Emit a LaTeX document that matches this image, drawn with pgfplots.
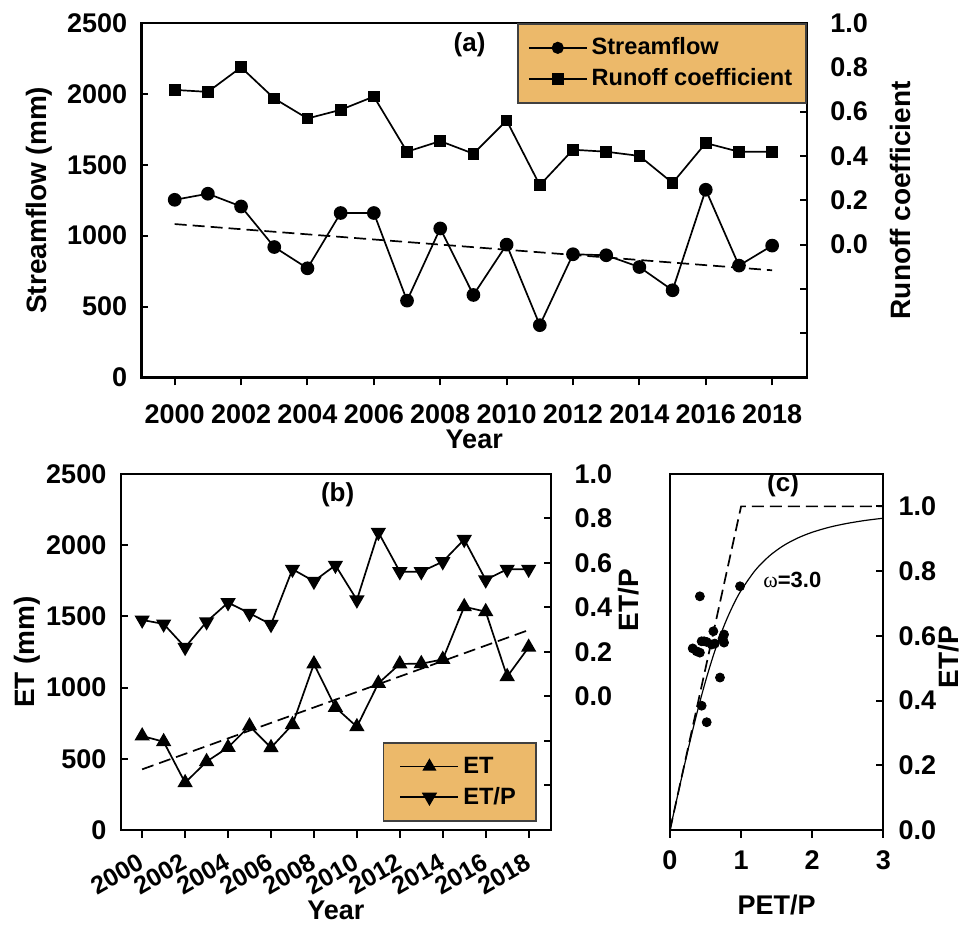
\documentclass[border=0pt]{standalone}
\usepackage{pgfplots}
\pgfplotsset{compat=1.18}
\usepackage{fontspec}
\setmainfont{Liberation Sans}
\newfontfamily\serifgr{Liberation Serif}
\definecolor{legfill}{RGB}{236,185,106}

\pgfplotsset{
  panel/.style={
    scale only axis,
    font=\fontsize{13.5}{16}\selectfont\bfseries,
    tick label style={font=\fontsize{13.5}{16}\selectfont\bfseries},
    xlabel style={font=\fontsize{13.5}{16}\selectfont\bfseries},
    ylabel style={font=\fontsize{14}{16}\selectfont\bfseries},
    /pgf/number format/assume math mode=true,
    /pgf/number format/1000 sep={},
    axis line style={line width=1.1pt},
    major tick length=3.5pt,
    tick style={line width=1pt, black},
    tick align=inside,
  },
  leg/.style={
    legend style={fill=legfill, draw=black!75, line width=0.8pt,
      font=\fontsize{11.8}{13.5}\selectfont\bfseries,
      inner xsep=5pt, inner ysep=5pt, row sep=1.5pt,
      /tikz/every even column/.append style={column sep=3pt}},
    legend cell align=left,
    legend image code/.code={\draw[mark repeat=2,mark phase=2,##1] plot coordinates {(0pt,0pt) (14.5pt,0pt) (29pt,0pt)};},
  },
  dline/.style={black, line width=0.85pt},
}

\begin{document}
\begin{tikzpicture}
\useasboundingbox (0,0) rectangle (482.5pt,462.5pt);

% ---------------- (a) ----------------
\begin{axis}[panel,
  at={(70.75pt,273.75pt)}, anchor=south west,
  width=332.75pt, height=177.25pt,
  xmin=1999, xmax=2019.05, ymin=0, ymax=2500,
  xtick={2000,2002,...,2018}, ytick={0,500,...,2500},
  xtick pos=bottom, ytick pos=left,
  major x tick style={yshift=-4pt},
  xticklabel style={anchor=base, yshift=-23pt},
  yticklabel style={anchor=east, inner sep=0pt, xshift=-7pt},
  xlabel={Year}, ylabel={Streamflow (mm)},
  xlabel style={at={(axis description cs:0.5,0)}, anchor=base, yshift=-35.5pt},
  ylabel style={at={(axis description cs:-0.154,0.5)}, anchor=center, rotate=0},
]
\addplot[dline, mark=*, mark size=3pt] coordinates {
(2000,1253) (2001,1296) (2002,1206) (2003,920) (2004,770) (2005,1160)
(2006,1160) (2007,542) (2008,1051) (2009,582) (2010,937) (2011,369)
(2012,869) (2013,862) (2014,779) (2015,615) (2016,1324) (2017,789) (2018,930)};
\addplot[black, line width=0.85pt, dash pattern=on 6pt off 3pt] coordinates {(2000,1082) (2018,756)};
\node[font=\fontsize{13}{15}\selectfont\bfseries] at (axis description cs:0.493,0.938) {(a)};
\end{axis}

\begin{axis}[panel, leg,
  at={(70.75pt,273.75pt)}, anchor=south west,
  width=332.75pt, height=177.25pt,
  xmin=1999, xmax=2019.05, ymin=-0.6, ymax=1.0,
  axis x line=none, axis y line*=right, tick align=inside,
  ytick={-0.4,-0.2,0,0.2,0.4,0.6,0.8,1.0},
  yticklabels={{},{},0.0,0.2,0.4,0.6,0.8,1.0},
  yticklabel style={anchor=west, inner sep=0pt, xshift=11.5pt},
  ylabel={Runoff coefficient},
  ylabel style={at={(axis description cs:1.141,0.5)}, anchor=center, rotate=0},
  legend style={at={(1,1)}, anchor=north east},
]
\addlegendimage{dline, mark=*, mark size=2.6pt}
\addlegendentry{Streamflow}
\addplot[dline, mark=square*, mark size=2.5pt] coordinates {
(2000,0.698) (2001,0.689) (2002,0.800) (2003,0.659) (2004,0.569) (2005,0.608)
(2006,0.668) (2007,0.419) (2008,0.467) (2009,0.410) (2010,0.560) (2011,0.268)
(2012,0.428) (2013,0.419) (2014,0.400) (2015,0.278) (2016,0.458) (2017,0.419) (2018,0.419)};
\addlegendentry{Runoff coefficient}
\end{axis}

% ---------------- (b) ----------------
\begin{axis}[panel,
  at={(60.35pt,47.5pt)}, anchor=south west,
  width=215.25pt, height=178pt,
  xmin=1999, xmax=2019.05, ymin=0, ymax=2500,
  xtick={2000,2002,...,2018}, ytick={0,500,...,2500},
  xtick pos=bottom, ytick pos=left,
  major x tick style={yshift=-4pt},
  xticklabel style={font=\fontsize{12.5}{15}\selectfont\bfseries, inner sep=0pt, xshift=-2.4pt, yshift=-11pt, rotate=30, anchor=north east},
  yticklabel style={anchor=east, inner sep=0pt, xshift=-7pt},
  xlabel={Year}, ylabel={ET (mm)},
  xlabel style={at={(axis description cs:0.5,0)}, anchor=base, yshift=-45pt},
  ylabel style={at={(axis description cs:-0.218,0.5)}, anchor=center, rotate=0},
]
\addplot[dline, mark=triangle*, mark size=3.6pt] coordinates {
(2000,660) (2001,620) (2002,332) (2003,480) (2004,580) (2005,730)
(2006,578) (2007,740) (2008,1166) (2009,861) (2010,725) (2011,1030)
(2012,1166) (2013,1168) (2014,1198) (2015,1568) (2016,1533) (2017,1077) (2018,1283)};
\addplot[black, line width=0.85pt, dash pattern=on 6pt off 3pt] coordinates {(2000,426) (2018,1404)};
\node[font=\fontsize{13}{15}\selectfont\bfseries] at (axis description cs:0.504,0.941) {(b)};
\end{axis}

\begin{axis}[panel, leg,
  at={(60.35pt,47.5pt)}, anchor=south west,
  width=215.25pt, height=178pt,
  xmin=1999, xmax=2019.05, ymin=-0.6, ymax=1.0,
  axis x line=none, axis y line*=right, tick align=inside,
  ytick={-0.4,-0.2,0,0.2,0.4,0.6,0.8,1.0},
  yticklabels={{},{},0.0,0.2,0.4,0.6,0.8,1.0},
  yticklabel style={anchor=west, inner sep=0pt, xshift=11.5pt},
  ylabel={ET/P},
  ylabel style={at={(axis description cs:1.181,0.646)}, anchor=center, rotate=0},
  legend style={at={(0.966,0.0225)}, anchor=south east, inner xsep=8pt},
]
\addlegendimage{dline, mark=triangle*, mark size=3.2pt}
\addlegendentry{ET}
\addplot[dline, mark=triangle*, mark options={rotate=180}, mark size=3.6pt] coordinates {
(2000,0.344) (2001,0.326) (2002,0.221) (2003,0.336) (2004,0.422) (2005,0.374)
(2006,0.324) (2007,0.572) (2008,0.518) (2009,0.590) (2010,0.434) (2011,0.738)
(2012,0.561) (2013,0.561) (2014,0.606) (2015,0.706) (2016,0.524) (2017,0.572) (2018,0.572)};
\addlegendentry{ET/P}
\end{axis}

% ---------------- (c) ----------------
\begin{axis}[panel,
  at={(335pt,47.5pt)}, anchor=south west,
  width=106.65pt, height=178pt,
  xmin=0, xmax=3, ymin=0, ymax=1.10,
  xtick={0,1,2,3}, ytick={0,0.2,0.4,0.6,0.8,1.0},
  yticklabels={0.0,0.2,0.4,0.6,0.8,1.0},
  xtick pos=bottom, ytick pos=right, yticklabel pos=right,
  major x tick style={yshift=-4pt},
  xticklabel style={anchor=base, yshift=-20pt},
  yticklabel style={anchor=west, inner sep=0pt, xshift=7.5pt},
  xlabel={PET/P}, ylabel={ET/P},
  xlabel style={at={(axis description cs:0.5,0)}, anchor=base, yshift=-42.5pt},
  ylabel style={at={(axis description cs:1.306,0.486)}, anchor=center, rotate=0},
]
\addplot[black, line width=0.85pt, dash pattern=on 6pt off 3pt] coordinates {(0,0) (1,1) (3,1)};
\addplot[black, line width=0.6pt, smooth] coordinates {
(0,0) (0.05,0.0500) (0.1,0.0997) (0.2,0.1973) (0.3,0.2911) (0.4,0.3791) (0.5,0.4600)
(0.6,0.5326) (0.7,0.5967) (0.8,0.6522) (0.9,0.6998) (1.0,0.7401) (1.2,0.8027)
(1.4,0.8472) (1.6,0.8792) (1.8,0.9025) (2.0,0.9199) (2.25,0.9360) (2.5,0.9477)
(2.75,0.9566) (3.0,0.9634)};
\addplot[only marks, mark=*, mark size=2.25pt, black] coordinates {
(0.42,0.722) (0.985,0.753) (0.61,0.614) (0.76,0.604) (0.76,0.579) (0.445,0.583)
(0.516,0.581) (0.586,0.573) (0.319,0.561) (0.375,0.552) (0.42,0.548) (0.703,0.471)
(0.445,0.384) (0.516,0.333) (0.74,0.592) (0.63,0.576) (0.48,0.583)};
\node[font=\fontsize{13}{15}\selectfont\bfseries] at (axis cs:1.59,1.066) {(c)};
\node[font=\fontsize{11}{13}\selectfont\bfseries] at (axis cs:1.72,0.774) {{\serifgr\mdseries ω}=3.0};
\end{axis}
\end{tikzpicture}
\end{document}
